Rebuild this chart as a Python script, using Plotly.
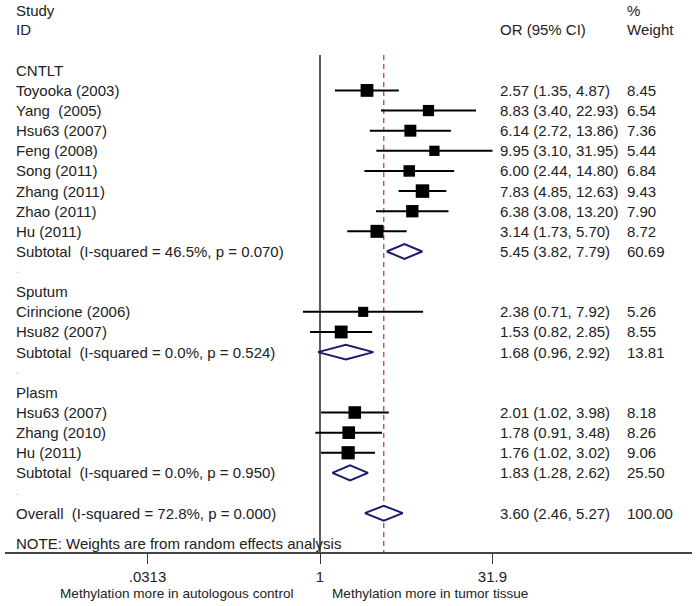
import plotly.graph_objects as go
import numpy as np

# ---------------- data ----------------
study_labels = ["Toyooka (2003)", "Yang  (2005)", "Hsu63 (2007)", "Feng (2008)",
                "Song (2011)", "Zhang (2011)", "Zhao (2011)", "Hu (2011)",
                "Cirincione (2006)", "Hsu82 (2007)",
                "Hsu63 (2007)", "Zhang (2010)", "Hu (2011)"]
study_group = ["CNTLT"] * 8 + ["Sputum"] * 2 + ["Plasm"] * 3
study_or = [2.57, 8.83, 6.14, 9.95, 6.00, 7.83, 6.38, 3.14, 2.38, 1.53, 2.01, 1.78, 1.76]
study_lo = [1.35, 3.40, 2.72, 3.10, 2.44, 4.85, 3.08, 1.73, 0.71, 0.82, 1.02, 0.91, 1.02]
study_hi = [4.87, 22.93, 13.86, 31.95, 14.80, 12.63, 13.20, 5.70, 7.92, 2.85, 3.98, 3.48, 3.02]
study_wt = [8.45, 6.54, 7.36, 5.44, 6.84, 9.43, 7.90, 8.72, 5.26, 8.55, 8.18, 8.26, 9.06]

groups = ["CNTLT", "Sputum", "Plasm"]
sub_label = ["Subtotal  (I-squared = 46.5%, p = 0.070)",
             "Subtotal  (I-squared = 0.0%, p = 0.524)",
             "Subtotal  (I-squared = 0.0%, p = 0.950)"]
sub_or = [5.45, 1.68, 1.83]
sub_lo = [3.82, 0.96, 1.28]
sub_hi = [7.79, 2.92, 2.62]
sub_wt = [60.69, 13.81, 25.50]

overall_label = "Overall  (I-squared = 72.8%, p = 0.000)"
overall_or = 3.60
overall_lo = 2.46
overall_hi = 5.27
overall_wt = 100.00

tick_vals = [0.0313, 1, 31.9]
tick_text = [".0313", "1", "31.9"]
left_caption = "Methylation more in autologous control"
right_caption = "Methylation more in tumor tissue"
note_text = "NOTE: Weights are from random effects analysis"

# ---------------- geometry (page px; body margin removed below) ----------------
W, H = 696, 606
AXIS_PAGE_Y = 552
AXIS_LEFT_PAGE_X = 5
AXIS_RIGHT_PAGE_X = 692
ML = AXIS_LEFT_PAGE_X
MR = W - AXIS_RIGHT_PAGE_X
MT = 0
MB = H - AXIS_PAGE_Y
PLOT_W = W - ML - MR
PLOT_H = H - MT - MB
ROW_PX = 20.13
ROW0_PAGE = 70.3

def row_of_page_y(py):
    return (py - ROW0_PAGE) / ROW_PX

y_top = row_of_page_y(MT)
y_bot = row_of_page_y(AXIS_PAGE_Y)

def paper_x(page_x):
    return (page_x - ML) / PLOT_W

def paper_y(page_y):
    return (AXIS_PAGE_Y - page_y) / PLOT_H

TXT = "#222222"
FONT = "Liberation Sans, Arial, sans-serif"

# rows
r = 0
study_rows, group_rows, sub_rows, dot_rows = [], [], [], []
for g in groups:
    group_rows.append(r); r += 1
    for sg in study_group:
        if sg == g:
            study_rows.append(r); r += 1
    sub_rows.append(r); r += 1
    dot_rows.append(r); r += 1
overall_row = r
note_row = row_of_page_y(543)

fig = go.Figure()

# reference lines
line_top = row_of_page_y(55)
fig.add_trace(go.Scatter(x=[1, 1], y=[line_top, y_bot + 1], mode="lines",
                         line=dict(color="#333333", width=1.6), hoverinfo="skip",
                         showlegend=False))
fig.add_trace(go.Scatter(x=[overall_or, overall_or], y=[line_top, y_bot + 1], mode="lines",
                         line=dict(color="#9b2a2a", width=1.1, dash="5px,4px"),
                         hoverinfo="skip", showlegend=False))

# CI lines
cx, cy = [], []
for lo, hi, rr in zip(study_lo, study_hi, study_rows):
    cx += [lo, hi, None]
    cy += [rr, rr, None]
fig.add_trace(go.Scatter(x=cx, y=cy, mode="lines", line=dict(color="black", width=2),
                         hoverinfo="skip", showlegend=False))

# weight boxes (area proportional to weight)
sizes = [4.4 * np.sqrt(w) for w in study_wt]
fig.add_trace(go.Scatter(x=study_or, y=study_rows, mode="markers",
                         marker=dict(symbol="square", size=sizes, color="black",
                                     opacity=1, line=dict(width=0)),
                         hoverinfo="skip", showlegend=False))

# diamonds
HH = 0.37
for est, lo, hi, rr in list(zip(sub_or, sub_lo, sub_hi, sub_rows)) + [(overall_or, overall_lo, overall_hi, overall_row)]:
    fig.add_trace(go.Scatter(x=[lo, est, hi, est, lo], y=[rr, rr - HH, rr, rr + HH, rr],
                             mode="lines", fill="toself", fillcolor="white",
                             line=dict(color="#1b1b6e", width=2),
                             hoverinfo="skip", showlegend=False))

ann = []
def txt(page_x, y_row, text, size=15, anchor="left", color=TXT):
    ann.append(dict(x=paper_x(page_x), xref="paper", y=y_row, yref="y", text=text,
                    showarrow=False, xanchor=anchor, yanchor="middle",
                    font=dict(family=FONT, size=size, color=color)))

LX, ORX, WX = 14, 498, 625
txt(LX, row_of_page_y(10), "Study")
txt(LX, row_of_page_y(29), "ID")
txt(ORX, row_of_page_y(29), "OR (95% CI)")
txt(WX, row_of_page_y(10), "%")
txt(WX, row_of_page_y(29), "Weight")

for g, rr in zip(groups, group_rows):
    txt(LX, rr, g)
for lab, est, lo, hi, w, rr in zip(study_labels, study_or, study_lo, study_hi, study_wt, study_rows):
    txt(LX, rr, lab)
    txt(ORX, rr, f"{est:.2f} ({lo:.2f}, {hi:.2f})")
    txt(WX, rr, f"{w:.2f}")
for lab, est, lo, hi, w, rr in zip(sub_label, sub_or, sub_lo, sub_hi, sub_wt, sub_rows):
    txt(LX, rr, lab)
    txt(ORX, rr, f"{est:.2f} ({lo:.2f}, {hi:.2f})")
    txt(WX, rr, f"{w:.2f}")
for rr in dot_rows:
    txt(LX, rr - 0.1, ".", size=10, color="#aaaaaa")
txt(LX, overall_row, overall_label)
txt(ORX, overall_row, f"{overall_or:.2f} ({overall_lo:.2f}, {overall_hi:.2f})")
txt(WX, overall_row, f"{overall_wt:.2f}")
txt(LX, note_row, note_text)

# bottom captions
for cx_px, t in [(176.5, left_caption), (430, right_caption)]:
    ann.append(dict(x=paper_x(cx_px), xref="paper", y=paper_y(593), yref="paper",
                    text=t, showarrow=False, xanchor="center", yanchor="middle",
                    font=dict(family=FONT, size=13.6, color=TXT)))

# x range in log10 units, from the pixel scale of the reference
px_per_ln = 49.8
x1_page = 320
lo_ln = (AXIS_LEFT_PAGE_X - x1_page) / px_per_ln
hi_ln = (AXIS_RIGHT_PAGE_X - x1_page) / px_per_ln

fig.update_layout(
    width=W, height=H,
    margin=dict(l=ML, r=MR, t=MT, b=MB, pad=0),
    paper_bgcolor="white", plot_bgcolor="white",
    font=dict(family=FONT, size=15, color=TXT),
    showlegend=False,
    hovermode=False,
    annotations=ann,
    xaxis=dict(type="log", range=[lo_ln / np.log(10), hi_ln / np.log(10)],
               tickvals=tick_vals, ticktext=tick_text, ticks="outside", ticklen=10,
               tickwidth=1, tickcolor="#333333", showgrid=False, zeroline=False,
               showline=True, linecolor="#444444", linewidth=1.6,
               tickfont=dict(family=FONT, size=15, color=TXT)),
    yaxis=dict(range=[y_bot, y_top], visible=False, showgrid=False, zeroline=False),
)

fig.write_html("out.html",
               config={"displayModeBar": False, "staticPlot": True},
               post_script="document.body.style.margin='0';document.body.style.overflow='hidden';")
